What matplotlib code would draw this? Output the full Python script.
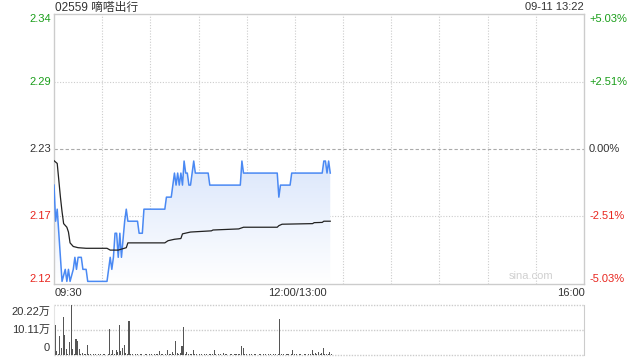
import numpy as np
import matplotlib
matplotlib.use("Agg")
import matplotlib.pyplot as plt
from matplotlib.patches import Polygon

plt.rcParams['font.family'] = ['Liberation Sans', 'Noto Sans CJK SC', 'DejaVu Sans']

# --- data --------------------------------------------------------------
title = "02559 嘀嗒出行"
stamp = "09-11 13:22"
prev_close = 2.23
pct_levels = [5.03, 2.51, 0.0, -2.51, -5.03]

# minutes since 09:30 on the trading axis (12:00 and 13:00 share minute 150)
price_t = [0, 1, 2, 3, 4, 5, 7, 8, 9, 10, 12, 13, 14, 15, 17, 18, 20, 21, 33,
           35, 36, 37, 38, 39, 40, 41, 42, 44, 45, 46, 52, 53, 55, 56, 69, 70,
           73, 74, 75, 76, 77, 78, 79, 80, 81, 82, 83, 84, 85, 86, 87, 88, 96,
           97, 116, 117, 118, 139, 140, 141, 147, 148, 167, 168, 169, 170, 171, 172]
price = [2.20, 2.17, 2.18, 2.16, 2.14, 2.12, 2.13, 2.12, 2.13, 2.12, 2.13, 2.14,
         2.13, 2.14, 2.14, 2.13, 2.13, 2.12, 2.12, 2.14, 2.13, 2.14, 2.16, 2.16,
         2.14, 2.16, 2.14, 2.17, 2.18, 2.17, 2.17, 2.16, 2.16, 2.18, 2.18, 2.19,
         2.19, 2.20, 2.21, 2.20, 2.21, 2.20, 2.21, 2.20, 2.22, 2.21, 2.21, 2.20,
         2.20, 2.21, 2.22, 2.21, 2.21, 2.20, 2.20, 2.22, 2.21, 2.21, 2.19, 2.20,
         2.20, 2.21, 2.21, 2.22, 2.22, 2.21, 2.22, 2.21]

avg_t = [0, 2, 3, 4, 5, 6, 8, 9, 10, 12, 15, 20, 33, 35, 40, 45, 46, 69, 71, 75,
         79, 80, 85, 98, 99, 115, 118, 139, 140, 142, 161, 162, 167, 168, 172]
avg_price = [2.2203, 2.218, 2.204, 2.19, 2.178, 2.168, 2.165, 2.161, 2.152, 2.149,
             2.148, 2.1475, 2.1475, 2.146, 2.146, 2.148, 2.152, 2.152, 2.1538,
             2.155, 2.1556, 2.1595, 2.161, 2.162, 2.1627, 2.1636, 2.165, 2.165,
             2.1663, 2.1675, 2.168, 2.1688, 2.169, 2.170, 2.170]

# volume per minute, in 万 shares
volume = [
    12.2, 1.7, 0.3, 7.8, 2.8, 15.4, 8.2, 2.5, 0.6, 5.3,
    20.22, 2.5, 0.3, 6.5, 5.8, 2.5, 0.3, 1.0, 0.4, 0.3,
    4.2, 0.3, 0.3, 0.2, 0.3, 0.3, 0.2, 0.3, 0.3, 0.2,
    0.3, 0.3, 0.2, 0.3, 10.6, 0.3, 1.9, 0.3, 1.9, 1.2,
    12.3, 1.7, 3.0, 4.0, 0.8, 0.3, 13.9, 0.3, 0.3, 0.2,
    0.3, 0.3, 0.2, 0.3, 0.3, 0.2, 0.3, 0.3, 0.2, 0.3,
    0.3, 0.2, 0.3, 0.3, 0.3, 1.7, 0.3, 0.3, 0.2, 0.3,
    1.9, 0.3, 0.3, 1.2, 0.3, 5.5, 0.8, 0.3, 0.8, 3.6,
    11.4, 0.4, 1.4, 0.3, 0.4, 0.3, 1.9, 0.3, 0.3, 0.2,
    0.3, 0.3, 0.2, 0.3, 0.3, 0.2, 0.3, 0.3, 0.3, 1.9,
    0.3, 0.2, 0.3, 0.3, 0.2, 0.7, 0.3, 0.3, 0.2, 0.3,
    0.3, 0.2, 0.3, 0.3, 0.3, 0.3, 3.6, 2.8, 0.3, 0.3,
    0.2, 0.3, 0.3, 0.2, 0.3, 0.3, 0.2, 0.3, 0.3, 0.2,
    0.3, 0.3, 0.2, 0.3, 0.3, 0.2, 0.3, 0.3, 0.2, 0.3,
    14.7, 0.3, 0.3, 0.2, 0.3, 0.3, 0.2, 0.3, 1.9, 0.3,
    0.3, 0.2, 0.3, 0.3, 0.2, 0.3, 0.3, 0.2, 0.3, 0.3,
    1.9, 0.3, 0.8, 0.3, 1.2, 0.3, 0.8, 2.8, 0.3, 0.3,
    0.3, 1.2, 0.3,
]
vol_max = 20.22
vol_labels = ["20.22万", "10.11万", "0"]
time_labels = ["09:30", "12:00/13:00", "16:00"]
total_minutes = 330

GREEN = '#1a9e1a'
RED = '#e8261f'
DARK = '#333333'
GRID = '#cccccc'
BORDER = '#cccccc'

fig = plt.figure(figsize=(6.4, 3.6), dpi=100)
ax = fig.add_axes([54 / 640, 1 - 284 / 360, 530 / 640, 270 / 360])
vax = fig.add_axes([54 / 640, 1 - 355 / 360, 530 / 640, 50 / 360])

lo = prev_close * (1 - 0.0503)
hi = prev_close * (1 + 0.0503)
ax.set_xlim(0, total_minutes)
ax.set_ylim(lo, hi)

# grid: every 30 minutes, and the percent levels
for m in range(30, total_minutes, 30):
    ax.axvline(m, color=GRID, lw=0.8, ls=(0, (1, 1.5)), zorder=0)
for pct in pct_levels[1:-1]:
    y = prev_close * (1 + pct / 100)
    if pct == 0:
        ax.axhline(y, color='#aaaaaa', lw=0.8, ls=(0, (3, 2)), zorder=0)
    else:
        ax.axhline(y, color=GRID, lw=0.8, ls=(0, (1, 1.5)), zorder=0)

# light gradient under the price line
poly = Polygon(list(zip(price_t, price)) + [(price_t[-1], lo), (price_t[0], lo)],
               closed=True, facecolor='none', edgecolor='none')
ax.add_patch(poly)
grad = np.zeros((100, 2, 4))
top_rgb = np.array([0.86, 0.905, 0.985])
for i in range(100):
    f = i / 99.0
    grad[i, :, :3] = top_rgb * (1 - f) + f * 1.0
    grad[i, :, 3] = 1.0
img = ax.imshow(grad, extent=[price_t[0], price_t[-1], lo, max(price)],
                origin='upper', aspect='auto', zorder=1, interpolation='bilinear')
img.set_clip_path(poly)

ax.plot(price_t, price, color='#4a89f3', lw=1.1, zorder=3)
ax.plot(avg_t, avg_price, color='#222222', lw=0.9, zorder=3)

ax.set_xticks([])
ax.set_yticks([])
for s in ax.spines.values():
    s.set_color(BORDER)
    s.set_linewidth(1)

# price / percent labels on both sides
for i, pct in enumerate(pct_levels):
    y = prev_close * (1 + pct / 100)
    color = GREEN if pct > 0 else (RED if pct < 0 else DARK)
    va = 'top' if i == 0 else ('bottom' if i == len(pct_levels) - 1 else 'center')
    ax.annotate(f"{y:.2f}", xy=(0, y), xycoords=('axes fraction', 'data'),
                xytext=(-3, 0), textcoords='offset pixels', ha='right', va=va,
                fontsize=8, color=color)
    ptxt = f"{pct:+.2f}%" if pct != 0 else "0.00%"
    ax.annotate(ptxt, xy=(1, y), xycoords=('axes fraction', 'data'),
                xytext=(5, 0), textcoords='offset pixels', ha='left', va=va,
                fontsize=8, color=color)

ax.text(0.9, 0.012, "sina.com", transform=ax.transAxes, ha='center', va='bottom',
        fontsize=8, color='#d0d0d0')

# time labels under the price panel
fig.text(55 / 640, 1 - 293 / 360, time_labels[0], ha='left', va='center', fontsize=8, color=DARK)
fig.text(297 / 640, 1 - 293 / 360, time_labels[1], ha='center', va='center', fontsize=8, color=DARK)
fig.text(585 / 640, 1 - 293 / 360, time_labels[2], ha='right', va='center', fontsize=8, color=DARK)

fig.text(55 / 640, 1 - 7.5 / 360, title, ha='left', va='center', fontsize=8.5, color=DARK)
fig.text(584 / 640, 1 - 7.5 / 360, stamp, ha='right', va='center', fontsize=8, color=DARK)

# volume panel
vax.set_xlim(0, total_minutes)
vax.set_ylim(0, vol_max)
vax.bar(np.arange(len(volume)) + 0.7, volume, width=0.65, color='#555555', zorder=2)
for v in [0, vol_max / 2, vol_max]:
    vax.axhline(v, color=GRID, lw=1.0, ls=(0, (1, 1)), zorder=0, clip_on=False)
vax.set_xticks([])
vax.set_yticks([])
for name, s in vax.spines.items():
    if name == 'right':
        s.set_color(BORDER)
    elif name == 'left':
        s.set_color('#e4e4e4')
    else:
        s.set_visible(False)
for lab, v, va in zip(vol_labels, [vol_max, vol_max / 2, 0], ['top', 'center', 'bottom']):
    vax.annotate(lab, xy=(0, v), xycoords=('axes fraction', 'data'),
                 xytext=(-4, -2 if va == 'top' else (2 if va == 'bottom' else 0)),
                 textcoords='offset pixels', ha='right', va=va, fontsize=8, color=DARK)

fig.savefig("out.png", dpi=100)
